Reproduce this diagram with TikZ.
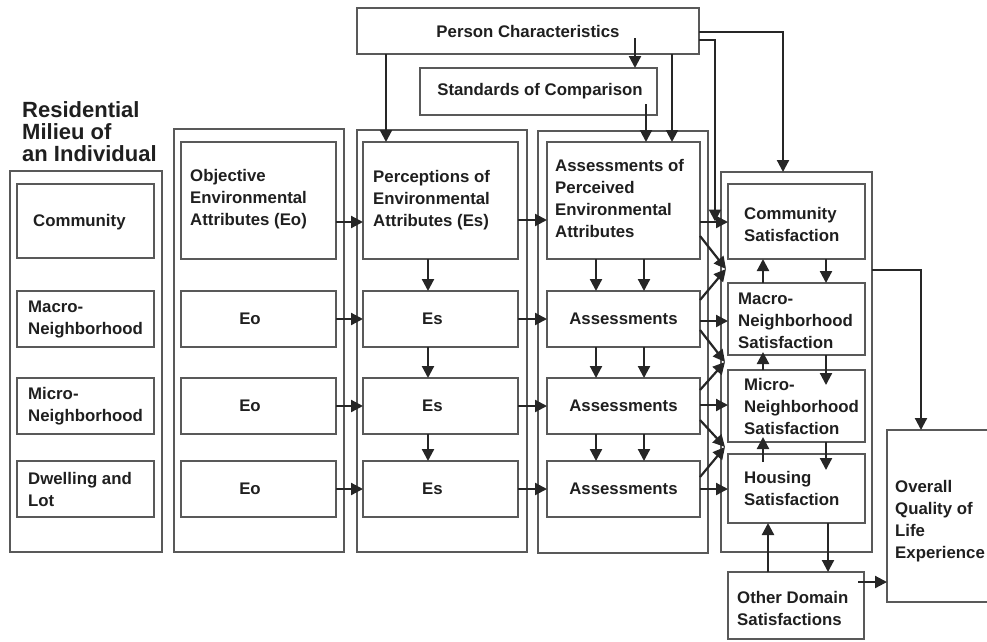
\documentclass[tikz,border=0pt]{standalone}
\usepackage{fontspec}
\setmainfont{Liberation Sans}
\usetikzlibrary{arrows.meta,fit}
\begin{document}
\begin{tikzpicture}[x=1pt,y=-1pt,
  box/.style={draw=black!65, line width=1.3pt, inner sep=0pt, outer sep=0pt},
  boxline/.style={draw=black!65, line width=1.3pt},
  lbl/.style={font=\fontsize{16.8}{22}\selectfont\bfseries, text=black!88, align=left, inner sep=0pt},
  ttl/.style={font=\fontsize{22}{21.7}\selectfont\bfseries, text=black!88, align=left, inner sep=0pt},
  conn/.style={draw=black!85, line width=2.2pt, -{Triangle[length=12pt,width=12pt]}},
]
\useasboundingbox (0,0) rectangle (987,641);

% ---- residential milieu column ----
\node[box, fit={(10,171) (162,552)}] (colres) {};
\node[box, fit={(17,184) (154,258)}] (rcom) {};
\node[box, fit={(17,291) (154,347)}] (rmac) {};
\node[box, fit={(17,378) (154,434)}] (rmic) {};
\node[box, fit={(17,461) (154,517)}] (rdwl) {};
\node[ttl, anchor=north west] (title) at (22,101.5) {Residential\\Milieu of\\an Individual};
\node[lbl, anchor=west] (rcomT) at ([xshift=16pt,yshift=-1pt]rcom.west) {Community};
\node[lbl, anchor=west] (rmacT) at ([xshift=11pt]rmac.west) {Macro-\\Neighborhood};
\node[lbl, anchor=west] (rmicT) at ([xshift=11pt]rmic.west) {Micro-\\Neighborhood};
\node[lbl, anchor=west] (rdwlT) at ([xshift=11pt]rdwl.west) {Dwelling and\\Lot};

% ---- objective attributes column ----
\node[box, fit={(174,129) (344,552)}] (colobj) {};
\node[box, fit={(181,142) (336,259)}] (obj) {};
\node[box, fit={(181,291) (336,347)}] (eo1) {};
\node[box, fit={(181,378) (336,434)}] (eo2) {};
\node[box, fit={(181,461) (336,517)}] (eo3) {};
\node[lbl, anchor=west] (objT) at ([xshift=9pt,yshift=1pt]obj.west) {Objective\\Environmental\\Attributes (Eo)};
\node[lbl] (eo1T) at ([xshift=-8.5pt]eo1.center) {Eo};
\node[lbl] (eo2T) at ([xshift=-8.5pt]eo2.center) {Eo};
\node[lbl] (eo3T) at ([xshift=-8.5pt]eo3.center) {Eo};

% ---- perceptions column ----
\node[box, fit={(357,130) (527,552)}] (colper) {};
\node[box, fit={(363,142) (518,259)}] (perc) {};
\node[box, fit={(363,291) (518,347)}] (es1) {};
\node[box, fit={(363,378) (518,434)}] (es2) {};
\node[box, fit={(363,461) (518,517)}] (es3) {};
\node[lbl, anchor=west] (percT) at ([xshift=10pt]perc.west) {Perceptions of\\Environmental\\Attributes (Es)};
\node[lbl] (es1T) at ([xshift=-8pt]es1.center) {Es};
\node[lbl] (es2T) at ([xshift=-8pt]es2.center) {Es};
\node[lbl] (es3T) at ([xshift=-8pt]es3.center) {Es};

% ---- assessments column ----
\node[box, fit={(538,131) (708,553)}] (colass) {};
\node[box, fit={(547,142) (700,259)}] (aop) {};
\node[box, fit={(547,291) (700,347)}] (as1) {};
\node[box, fit={(547,378) (700,434)}] (as2) {};
\node[box, fit={(547,461) (700,517)}] (as3) {};
\node[lbl, anchor=west] (aopT) at ([xshift=8pt,yshift=2pt]aop.west) {Assessments of\\Perceived\\Environmental\\Attributes};
\node[lbl] (as1T) at (as1.center) {Assessments};
\node[lbl] (as2T) at (as2.center) {Assessments};
\node[lbl] (as3T) at (as3.center) {Assessments};

% ---- satisfaction column ----
\node[box, fit={(721,172) (872,552)}] (colsat) {};
\node[box, fit={(728,184) (865,259)}] (csat) {};
\node[box, fit={(728,283) (865,355)}] (msat) {};
\node[box, fit={(728,370) (865,442)}] (misat) {};
\node[box, fit={(728,454) (865,523)}] (hsat) {};
\node[lbl, anchor=west] (csatT) at ([xshift=16pt,yshift=-3pt]csat.west) {Community\\Satisfaction};
\node[lbl, anchor=west] (msatT) at ([xshift=10pt,yshift=-2pt]msat.west) {Macro-\\Neighborhood\\Satisfaction};
\node[lbl, anchor=west] (misatT) at ([xshift=16pt]misat.west) {Micro-\\Neighborhood\\Satisfaction};
\node[lbl, anchor=west] (hsatT) at ([xshift=16pt]hsat.west) {Housing\\Satisfaction};

% ---- other domains and overall quality ----
\node[box, fit={(728,572) (864,639)}] (other) {};
\node[lbl, anchor=west] (otherT) at ([xshift=9pt,yshift=-3pt]other.west) {Other Domain\\Satisfactions};
\node[inner sep=0pt, outer sep=0pt, fit={(887,430) (995,602)}] (overall) {};
\draw[boxline] (987,430) -- (overall.north west) -- (overall.south west) -- (987,602);
\node[lbl, anchor=west] (overT) at ([xshift=8pt,yshift=-5pt]overall.west) {Overall\\Quality of\\Life\\Experience};

% ---- person characteristics and standards ----
\node[box, fit={(357,8) (699,54)}] (pc) {};
\node[box, fit={(420,68) (657,115)}] (soc) {};
\node[lbl] (pcT) at (pc.center) {Person Characteristics};
\node[lbl] (socT) at ([xshift=1.5pt]soc.center) {Standards of Comparison};

% junctions between satisfaction boxes
\coordinate (j1) at (726,269);
\coordinate (j2) at (725,362);
\coordinate (j3) at (725,447);

% ---- connectors from the top ----
\draw[conn] ([xshift=29pt]pc.south west) -- ([xshift=23pt]perc.north west);
\draw[conn] ([xshift=107pt,yshift=-7pt]pc.center) coordinate (c2) -- (c2 |- soc.north);
\draw[conn] ([xshift=107.5pt,yshift=-12.5pt]soc.center) coordinate (c3) -- (c3 |- aop.north);
\draw[conn] ([xshift=144pt]pc.south) coordinate (c4) -- (c4 |- aop.north);
\draw[conn] ([yshift=-9pt]pc.east) -| ([xshift=-13pt]csat.west);
\draw[conn] ([yshift=-1pt]pc.east) -| ([xshift=-13.5pt]colsat.north);

% ---- objective -> perceptions ----
\draw[conn] ([yshift=-21.5pt]obj.east) coordinate (c7) -- (c7 -| perc.west);
\draw[conn] (eo1) -- (es1);
\draw[conn] (eo2) -- (es2);
\draw[conn] (eo3) -- (es3);

% ---- perceptions -> assessments ----
\draw[conn] ([yshift=-19.5pt]perc.east) coordinate (c11) -- (c11 -| aop.west);
\draw[conn] (es1) -- (as1);
\draw[conn] (es2) -- (as2);
\draw[conn] (es3) -- (as3);

% ---- downward links within columns ----
\draw[conn] ([xshift=-12.5pt]perc.south) -- ([xshift=-12.5pt]es1.north);
\draw[conn] ([xshift=-12.5pt]es1.south) -- ([xshift=-12.5pt]es2.north);
\draw[conn] ([xshift=-12.5pt]es2.south) -- ([xshift=-12.5pt]es3.north);
\draw[conn] ([xshift=-27.5pt]aop.south) -- ([xshift=-27.5pt]as1.north);
\draw[conn] ([xshift=20.5pt]aop.south) -- ([xshift=20.5pt]as1.north);
\draw[conn] ([xshift=-27.5pt]as1.south) -- ([xshift=-27.5pt]as2.north);
\draw[conn] ([xshift=20.5pt]as1.south) -- ([xshift=20.5pt]as2.north);
\draw[conn] ([xshift=-27.5pt]as2.south) -- ([xshift=-27.5pt]as3.north);
\draw[conn] ([xshift=20.5pt]as2.south) -- ([xshift=20.5pt]as3.north);

% ---- assessments -> satisfactions ----
\draw[conn] ([yshift=-21.5pt]aop.east) coordinate (c24) -- (c24 -| csat.west);
\draw[conn] ([yshift=-35.5pt]aop.east) -- (j1);
\draw[conn] ([yshift=19pt]as1.east) -- (j1);
\draw[conn] ([yshift=-2pt]as1.east) coordinate (c27) -- (c27 -| msat.west);
\draw[conn] ([yshift=-11pt]as1.east) -- (j2);
\draw[conn] ([yshift=16pt]as2.east) -- (j2);
\draw[conn] ([yshift=1pt]as2.east) coordinate (c30) -- (c30 -| misat.west);
\draw[conn] ([yshift=-14pt]as2.east) -- (j3);
\draw[conn] ([yshift=12pt]as3.east) -- (j3);
\draw[conn] (as3.east) coordinate (c33) -- (c33 -| hsat.west);

% ---- links among satisfactions ----
\draw[conn] ([xshift=29.5pt]csat.south) -- ([xshift=29.5pt]msat.north);
\draw[conn] ([xshift=-33.5pt]msat.north) -- ([xshift=-33.5pt]csat.south);
\draw[conn] ([xshift=29.5pt]msat.south) -- ([xshift=29.5pt,yshift=-15pt]misat.north);
\draw[conn] ([xshift=-33.5pt]misat.north) -- ([xshift=-33.5pt,yshift=3pt]msat.south);
\draw[conn] ([xshift=29.5pt]misat.south) -- ([xshift=29.5pt,yshift=-16pt]hsat.north);
\draw[conn] ([xshift=-33.5pt,yshift=-8pt]hsat.north) -- ([xshift=-33.5pt,yshift=5pt]misat.south);
\draw[conn] ([xshift=31.5pt]hsat.south) -- ([xshift=32pt]other.north);
\draw[conn] ([xshift=-28pt]other.north) -- ([xshift=-28.5pt]hsat.south);

% ---- towards overall quality of life ----
\draw[conn] ([xshift=-6pt,yshift=23.5pt]other.east) coordinate (c42) -- (c42 -| overall.west);
\draw[conn] ([yshift=92pt]colsat.east) -| ([xshift=-20pt]overall.north);
\end{tikzpicture}
\end{document}
